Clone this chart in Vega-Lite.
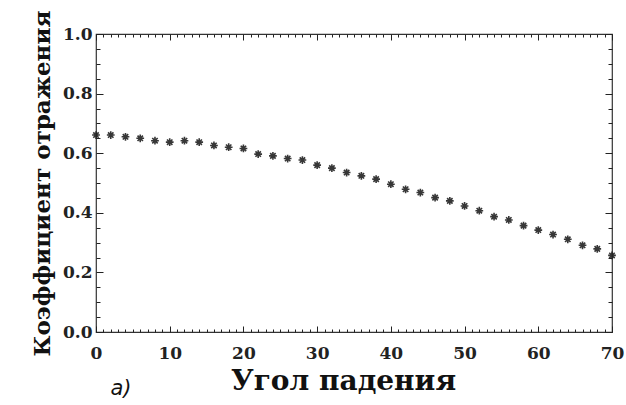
{
  "$schema": "https://vega.github.io/schema/vega-lite/v6.json",
  "width": 516,
  "height": 298,
  "autosize": {"type": "none"},
  "padding": {"left": 96, "top": 34, "right": 14, "bottom": 73},
  "background": "white",
  "config": {
    "view": {"stroke": "#333", "strokeWidth": 1.2},
    "axis": {"tickColor": "#222", "tickWidth": 1, "grid": false, "domain": false}
  },
  "data": {"values": [
    {"angle": 0, "r": 0.661}, {"angle": 2, "r": 0.661}, {"angle": 4, "r": 0.655}, {"angle": 6, "r": 0.65},
    {"angle": 8, "r": 0.642}, {"angle": 10, "r": 0.637}, {"angle": 12, "r": 0.642}, {"angle": 14, "r": 0.637},
    {"angle": 16, "r": 0.626}, {"angle": 18, "r": 0.62}, {"angle": 20, "r": 0.616}, {"angle": 22, "r": 0.597},
    {"angle": 24, "r": 0.591}, {"angle": 26, "r": 0.582}, {"angle": 28, "r": 0.577}, {"angle": 30, "r": 0.56},
    {"angle": 32, "r": 0.55}, {"angle": 34, "r": 0.535}, {"angle": 36, "r": 0.524}, {"angle": 38, "r": 0.513},
    {"angle": 40, "r": 0.496}, {"angle": 42, "r": 0.479}, {"angle": 44, "r": 0.468}, {"angle": 46, "r": 0.451},
    {"angle": 48, "r": 0.44}, {"angle": 50, "r": 0.423}, {"angle": 52, "r": 0.407}, {"angle": 54, "r": 0.387},
    {"angle": 56, "r": 0.376}, {"angle": 58, "r": 0.357}, {"angle": 60, "r": 0.342}, {"angle": 62, "r": 0.327},
    {"angle": 64, "r": 0.311}, {"angle": 66, "r": 0.291}, {"angle": 68, "r": 0.279}, {"angle": 70, "r": 0.257}
  ]},
  "resolve": {"scale": {"x": "independent", "y": "independent"}, "axis": {"x": "independent", "y": "independent"}},
  "layer": [
    {
      "mark": {"type": "point", "shape": "M-1,0L1,0M0,-1L0,1M-0.7,-0.7L0.7,0.7M-0.7,0.7L0.7,-0.7", "filled": false, "stroke": "#222", "strokeWidth": 1.6, "size": 60, "opacity": 0.9},
      "encoding": {
        "x": {"field": "angle", "type": "quantitative", "scale": {"domain": [0, 70], "nice": false},
          "axis": {"orient": "bottom", "title": "Угол падения", "titleFont": "DejaVu Serif", "titleFontWeight": "bold", "titleFontSize": 28, "titleColor": "#111", "titlePadding": 6, "titleX": 247, "titleAlign": "center", "values": [0, 10, 20, 30, 40, 50, 60, 70], "ticks": false, "tickSize": 0, "labelPadding": 13, "labelFlush": false, "labelFont": "DejaVu Serif", "labelFontWeight": "bold", "labelFontSize": 17, "labelColor": "#222"}},
        "y": {"field": "r", "type": "quantitative", "scale": {"domain": [0, 1], "nice": false},
          "axis": {"orient": "left", "title": "Коэффициент отражения", "titleFont": "DejaVu Serif", "titleFontWeight": "bold", "titleFontSize": 23, "titleColor": "#111", "titlePadding": 8, "values": [0, 0.2, 0.4, 0.6, 0.8, 1.0], "format": ".1f", "ticks": false, "tickSize": 0, "labelPadding": 4, "labelFlush": false, "labelFont": "DejaVu Serif", "labelFontWeight": "bold", "labelFontSize": 17, "labelColor": "#222"}}
      }
    },
    {
      "mark": {"type": "point", "opacity": 0},
      "encoding": {
        "x": {"field": "angle", "type": "quantitative", "scale": {"domain": [0, 70], "nice": false}, "axis": {"orient": "bottom", "offset": -6, "title": null, "labels": false, "values": [0, 10, 20, 30, 40, 50, 60, 70], "tickSize": 6}},
        "y": {"field": "r", "type": "quantitative", "scale": {"domain": [0, 1], "nice": false}, "axis": {"orient": "left", "offset": -7, "title": null, "labels": false, "values": [0, 0.2, 0.4, 0.6, 0.8, 1.0], "tickSize": 7}}
      }
    },
    {
      "mark": {"type": "point", "opacity": 0},
      "encoding": {
        "x": {"field": "angle", "type": "quantitative", "scale": {"domain": [0, 70], "nice": false}, "axis": {"orient": "top", "offset": -6, "title": null, "labels": false, "values": [0, 10, 20, 30, 40, 50, 60, 70], "tickSize": 6}},
        "y": {"field": "r", "type": "quantitative", "scale": {"domain": [0, 1], "nice": false}, "axis": {"orient": "right", "offset": -7, "title": null, "labels": false, "values": [0, 0.2, 0.4, 0.6, 0.8, 1.0], "tickSize": 7}}
      }
    },
    {
      "mark": {"type": "point", "opacity": 0},
      "encoding": {
        "x": {"field": "angle", "type": "quantitative", "scale": {"domain": [0, 70], "nice": false}, "axis": {"orient": "bottom", "offset": -3, "title": "a)", "titleFont": "DejaVu Sans", "titleFontStyle": "italic", "titleFontWeight": "normal", "titleFontSize": 21, "titleColor": "#111", "titleX": 14, "titleY": 65, "titleAlign": "left", "titleBaseline": "alphabetic", "labels": false, "values": [1,2,3,4,5,6,7,8,9,11,12,13,14,15,16,17,18,19,21,22,23,24,25,26,27,28,29,31,32,33,34,35,36,37,38,39,41,42,43,44,45,46,47,48,49,51,52,53,54,55,56,57,58,59,61,62,63,64,65,66,67,68,69], "tickSize": 3}},
        "y": {"field": "r", "type": "quantitative", "scale": {"domain": [0, 1], "nice": false}, "axis": {"orient": "left", "offset": -4, "title": null, "labels": false, "values": [0.05, 0.1, 0.15, 0.25, 0.3, 0.35, 0.45, 0.5, 0.55, 0.65, 0.7, 0.75, 0.85, 0.9, 0.95], "tickSize": 4}}
      }
    },
    {
      "mark": {"type": "point", "opacity": 0},
      "encoding": {
        "x": {"field": "angle", "type": "quantitative", "scale": {"domain": [0, 70], "nice": false}, "axis": {"orient": "top", "offset": -3, "title": null, "labels": false, "values": [1,2,3,4,5,6,7,8,9,11,12,13,14,15,16,17,18,19,21,22,23,24,25,26,27,28,29,31,32,33,34,35,36,37,38,39,41,42,43,44,45,46,47,48,49,51,52,53,54,55,56,57,58,59,61,62,63,64,65,66,67,68,69], "tickSize": 3}},
        "y": {"field": "r", "type": "quantitative", "scale": {"domain": [0, 1], "nice": false}, "axis": {"orient": "right", "offset": -4, "title": null, "labels": false, "values": [0.05, 0.1, 0.15, 0.25, 0.3, 0.35, 0.45, 0.5, 0.55, 0.65, 0.7, 0.75, 0.85, 0.9, 0.95], "tickSize": 4}}
      }
    }
  ]
}
